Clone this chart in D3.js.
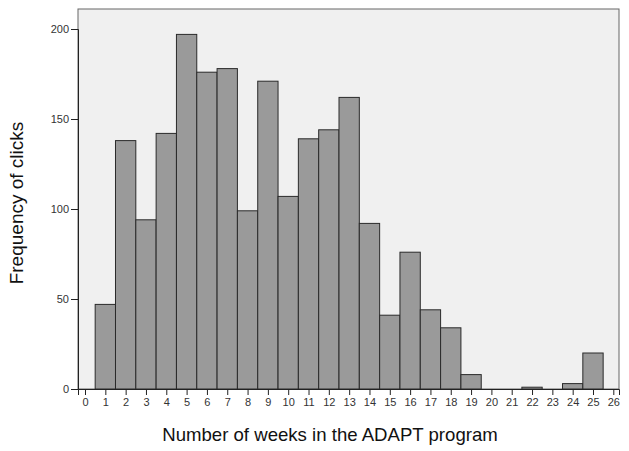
<!DOCTYPE html>
<html><head><meta charset="utf-8">
<script src="https://cdn.jsdelivr.net/npm/d3@7"></script>
<style>body{margin:0;background:#fff}svg{display:block}</style>
</head><body>
<svg id="c" width="629" height="451"></svg>
<script>
const weeks = [1,2,3,4,5,6,7,8,9,10,11,12,13,14,15,16,17,18,19,20,21,22,23,24,25];
const clicks = [47,138,94,142,197,176,178,99,171,107,139,144,162,92,41,76,44,34,8,0,0,1,0,3,20];
const xTicks = d3.range(0,27);
const yTicks = [0,50,100,150,200];

const svg = d3.select("#c");
const L=78, R=619, T=9, B=389;
const x = d3.scaleLinear().domain([-0.345,26.28]).range([L,R]);
const y = d3.scaleLinear().domain([0,200]).range([B,29]);

svg.append("rect").attr("x",L).attr("y",T).attr("width",R-L).attr("height",B-T)
  .attr("fill","#f0f0f0").attr("stroke","#666").attr("stroke-width",1);

svg.append("g").selectAll("rect").data(weeks.map((w,i)=>({w,v:clicks[i]})).filter(d=>d.v>0))
  .join("rect")
  .attr("x",d=>x(d.w-0.5)).attr("width",d=>x(d.w+0.5)-x(d.w-0.5))
  .attr("y",d=>y(d.v)).attr("height",d=>y(0)-y(d.v))
  .attr("fill","#9a9a9a").attr("stroke","#2a2a2a").attr("stroke-width",1);

const yAxis = svg.append("g").attr("transform",`translate(${L},0)`)
  .call(d3.axisLeft(y).tickValues(yTicks).tickSize(7).tickPadding(2).tickFormat(d3.format("d")));
const xAxis = svg.append("g").attr("transform",`translate(0,${B})`)
  .call(d3.axisBottom(x).tickValues(xTicks).tickSize(6).tickPadding(3).tickFormat(d3.format("d")));
[yAxis,xAxis].forEach(g=>{
  g.select(".domain").attr("stroke","#222");
  g.selectAll(".tick line").attr("stroke","#222");
  g.selectAll(".tick text").attr("fill","#333").style("font-family","Liberation Sans, Arial, sans-serif").style("font-size","11px");
});

svg.append("text").attr("x",330).attr("y",441).attr("text-anchor","middle")
  .style("font-family","Liberation Sans, Arial, sans-serif").style("font-size","18.6px").attr("fill","#111")
  .text("Number of weeks in the ADAPT program");
svg.append("text").attr("transform","translate(23,203) rotate(-90)").attr("text-anchor","middle")
  .style("font-family","Liberation Sans, Arial, sans-serif").style("font-size","19px").attr("fill","#111")
  .text("Frequency of clicks");
</script>
</body></html>
